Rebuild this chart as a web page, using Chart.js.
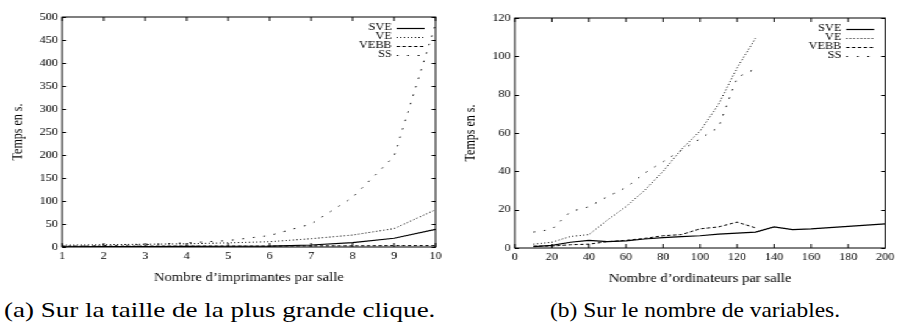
<!DOCTYPE html>
<html>
<head>
<meta charset="utf-8">
<script src="https://cdn.jsdelivr.net/npm/chart.js@4/dist/chart.umd.min.js"></script>
<style>
body { margin: 0; background: #fff; width: 898px; height: 327px; overflow: hidden; position: relative; }
/* the reference is stretched sideways, so both plots are drawn narrow and widened */
#plots { position: absolute; left: 0; top: 0; width: 736px; height: 290px; transform: scaleX(1.2201); transform-origin: 0 0; }
#plots canvas { position: absolute; top: 0; }
.cap { position: absolute; top: 300px; font: 21px "Liberation Serif"; line-height: 21px; white-space: nowrap; transform-origin: 0 0; color: #000; }
</style>
</head>
<body>
<div id="plots">
  <canvas id="printers" width="368" height="290" style="left:0"></canvas>
  <canvas id="computers" width="368" height="290" style="left:368px"></canvas>
</div>
<div class="cap" style="left:4px" data-w="431">(a) Sur la taille de la plus grande clique.</div>
<div class="cap" style="left:550px" data-w="290">(b) Sur le nombre de variables.</div>
<script>
var seriesNames = ['SVE', 'VE', 'VEBB', 'SS'];

// (a) temps selon le nombre d'imprimantes
var printers = [1, 2, 3, 4, 5, 6, 7, 8, 9, 10];
var printersSVE = [0.5, 0.7, 1, 1.3, 1.6, 2, 4.3, 9.4, 19, 38.5];
var printersVE = [4, 5, 6, 7, 9, 11.5, 18, 26, 40, 81];
var printersVEBB = [2, 2, 2, 2, 2, 2, 2.5, 2.5, 3, 3];
var printersSS = [1.5, 3, 5, 9, 14, 25, 50, 108, 197, 485];

// (b) temps selon le nombre d'ordinateurs
var computers = [10, 20, 30, 40, 50, 60, 70, 80, 90, 100, 110, 120, 130, 140, 150, 160, 170, 180, 190, 200];
var computersSVE = [0.7, 1.4, 3, 4, 3.3, 3.7, 4.7, 5.4, 5.9, 6.4, 7.2, 7.8, 8.3, 11, 9.6, 10, 10.6, 11.3, 11.9, 12.6];
var computersVE = [2, 3, 6, 7, 14.6, 21.6, 30, 40, 51.5, 61, 75, 94, 109.5];
var computersVEBB = [1, 1, 1.7, 2, 3.3, 4, 5, 6.4, 7, 10, 11, 13.5, 10.5];
var computersSS = [8.3, 9.7, 19, 21.5, 26.8, 31.5, 39, 45, 51, 57, 63, 89, 93.5];

var dashes = [[], [1, 2], [2.8, 2], [1.4, 7.3]];
var serif = '"Liberation Serif", "Times New Roman", serif';

var framePlugin = {
    id: 'frame',
    afterDatasetsDraw: function(chart) {
        var ctx = chart.ctx, a = chart.chartArea, sx = chart.scales.x, sy = chart.scales.y;
        ctx.save();
        ctx.strokeStyle = '#000';
        ctx.lineWidth = 1;
        ctx.setLineDash([]);
        ctx.beginPath();
        // gnuplot style: ticks point inwards, mirrored on top and right
        sx.ticks.forEach(function(t) {
            var px = sx.getPixelForValue(t.value);
            ctx.moveTo(px, a.bottom); ctx.lineTo(px, a.bottom - 4);
            ctx.moveTo(px, a.top); ctx.lineTo(px, a.top + 4);
        });
        sy.ticks.forEach(function(t) {
            var py = Math.round(sy.getPixelForValue(t.value)) + 0.5;
            ctx.moveTo(a.left, py); ctx.lineTo(a.left + 3.3, py);
            ctx.moveTo(a.right, py); ctx.lineTo(a.right - 3.3, py);
        });
        ctx.stroke();
        ctx.strokeRect(a.left, a.top, a.right - a.left, a.bottom - a.top);
        ctx.restore();
    }
};

var keyPlugin = {
    id: 'key',
    afterDraw: function(chart) {
        var ctx = chart.ctx, a = chart.chartArea;
        ctx.save();
        ctx.font = '10px ' + serif;
        ctx.fillStyle = '#000';
        ctx.strokeStyle = '#000';
        ctx.textAlign = 'right';
        ctx.textBaseline = 'middle';
        chart.data.datasets.forEach(function(ds, i) {
            var y = a.top + 10.5 + i * 9;
            ctx.fillText(ds.label, a.right - 36, y);
            ctx.lineWidth = ds.borderWidth;
            ctx.setLineDash(ds.borderDash);
            ctx.beginPath();
            ctx.moveTo(a.right - 32, Math.round(y) + 0.5);
            ctx.lineTo(a.right - 9, Math.round(y) + 0.5);
            ctx.stroke();
        });
        ctx.restore();
    }
};

function toPoints(xs, ys) {
    return ys.map(function(y, i) { return {x: xs[i], y: y}; });
}

function makeChart(canvas_id, xs, series, x_range, y_range, x_title, box) {
    var ctx = document.getElementById(canvas_id).getContext('2d');
    var datasets = series.map(function(values, i) {
        return {
            label: seriesNames[i],
            data: toPoints(xs, values),
            borderColor: '#000',
            borderWidth: i === 0 ? 1.2 : 1,
            borderDash: dashes[i],
            pointRadius: 0,
            fill: false,
            tension: 0
        };
    });
    return new Chart(ctx, {
        type: 'line',
        data: {datasets: datasets},
        options: {
            responsive: false,
            animation: false,
            events: [],
            layout: {padding: {top: box.top, right: box.right, bottom: box.bottom, left: 0}},
            plugins: {legend: {display: false}, tooltip: {enabled: false}},
            scales: {
                x: {
                    type: 'linear',
                    min: x_range[0], max: x_range[1],
                    grid: {display: false, drawTicks: false, tickLength: 0},
                    border: {display: false},
                    ticks: {stepSize: x_range[2], color: '#000', padding: 3, font: {family: serif, size: 10}, maxRotation: 0},
                    title: {display: true, text: x_title, color: '#000', font: {family: serif, size: 12}, padding: {top: 0, bottom: 2}},
                    afterFit: function(s) { s.height = 40; }
                },
                y: {
                    min: y_range[0], max: y_range[1],
                    grid: {display: false, drawTicks: false, tickLength: 0},
                    border: {display: false},
                    ticks: {stepSize: y_range[2], color: '#000', padding: 3.5, font: {family: serif, size: 10}},
                    title: {display: true, text: 'Temps en s.', color: '#000', font: {family: serif, size: 12}, padding: {top: box.titleGap, bottom: 0}},
                    afterFit: function(s) { s.width = box.yWidth; }
                }
            }
        },
        plugins: [framePlugin, keyPlugin]
    });
}

function chartInit() {
    makeChart('printers', printers, [printersSVE, printersVE, printersVEBB, printersSS],
        [1, 10, 1], [0, 500, 50], 'Nombre d\u2019imprimantes par salle',
        {top: 17, right: 11, bottom: 3, yWidth: 51, titleGap: 7.6});
    makeChart('computers', computers, [computersSVE, computersVE, computersVEBB, computersSS],
        [0, 200, 20], [0, 120, 20], 'Nombre d\u2019ordinateurs par salle',
        {top: 18, right: 8, bottom: 2, yWidth: 54, titleGap: 10.8});

    // captions: widen to the measured width of the reference
    document.querySelectorAll('.cap').forEach(function(el) {
        el.style.transform = 'scaleX(' + (el.dataset.w / el.offsetWidth) + ')';
    });
}
chartInit();
</script>
</body>
</html>
